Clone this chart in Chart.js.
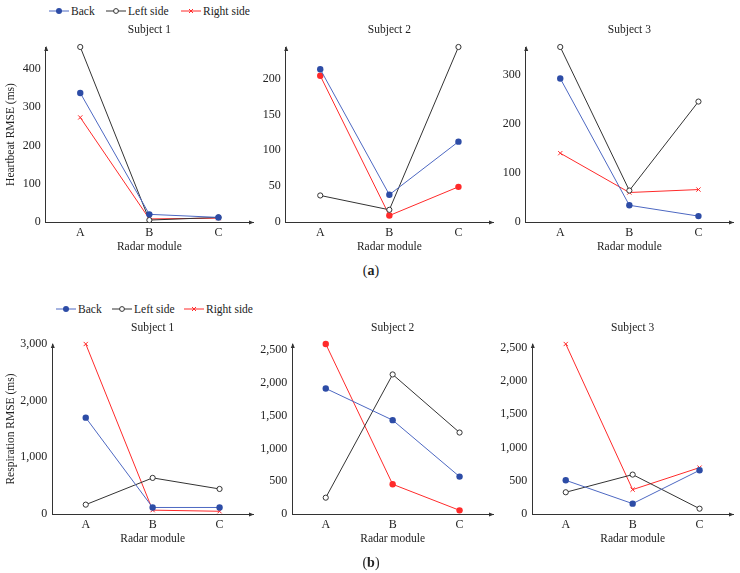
<!DOCTYPE html>
<html lang="en">
<head>
    <meta charset="UTF-8">
    <title>RMSE per radar module</title>
    <style type="text/css">
        body {
            margin: 0;
            width: 740px;
            height: 573px;
            position: relative;
            overflow: hidden;
            background: #fff;
            font-family: "Liberation Serif", serif;
            color: #222;
        }
        canvas { position: absolute; }
        .item {
            position: absolute;
            font-size: 11.5px;
            line-height: 14px;
            white-space: nowrap;
        }
        .item svg { vertical-align: middle; margin-right: 2px; margin-top: -2px; }
        .cap {
            position: absolute;
            width: 60px;
            text-align: center;
            font-size: 14px;
            line-height: 16px;
        }
    </style>
</head>
<body>
    <canvas id="hr1" width="258" height="234" style="left:0px;top:20px"></canvas>
    <canvas id="hr2" width="248" height="234" style="left:250px;top:20px"></canvas>
    <canvas id="hr3" width="248" height="234" style="left:490px;top:20px"></canvas>
    <canvas id="rr1" width="258" height="228" style="left:0px;top:318px"></canvas>
    <canvas id="rr2" width="248" height="228" style="left:250px;top:318px"></canvas>
    <canvas id="rr3" width="248" height="228" style="left:490px;top:318px"></canvas>

    <div id="legendA"></div>
    <div id="legendB"></div>
    <div class="cap" style="left:341px;top:263px">(<b>a</b>)</div>
    <div class="cap" style="left:341px;top:555px">(<b>b</b>)</div>

    <script src="https://cdn.jsdelivr.net/npm/chart.js"></script>

    <script>
    // data, one entry per subject, values for modules A, B, C
    const modules = ['A', 'B', 'C'];
    const seriesNames = ['Back', 'Left side', 'Right side'];

    const hrBack  = [[337, 20, 12], [213, 38, 112], [292, 34, 12]];
    const hrLeft  = [[457, 5, 12],  [37, 17, 244],  [356, 64, 245]];
    const hrRight = [[273, 8, 10],  [204, 9, 49],   [140, 60, 66]];
    const hrSteps = [100, 50, 100];

    const rrBack  = [[1700, 115, 115], [1914, 1431, 570], [507, 156, 658]];
    const rrLeft  = [[165, 637, 442],  [249, 2128, 1242], [327, 593, 80]];
    const rrRight = [[3000, 68, 48],   [2592, 453, 56],   [2558, 367, 698]];
    const rrSteps = [1000, 500, 500];

    const blueLine = '#4d68c2', blueDot = '#2d4ca6';
    const darkLine = '#333333';
    const redLine = '#ff2a2a';
    const font = { family: '"Liberation Serif", serif', size: 11.5 };
    const tickFont = { family: '"Liberation Serif", serif', size: 12 };

    // arrow heads at the ends of both axes, title centred over the plot area
    const axisPlugin = {
        id: 'axisLook',
        afterLayout(chart) {
            const t = chart.titleBlock;
            if (t) {
                t.left = chart.chartArea.left;
                t.right = chart.chartArea.right;
            }
        },
        afterDraw(chart) {
            const { ctx, chartArea: a } = chart;
            ctx.save();
            ctx.fillStyle = '#333';
            ctx.beginPath();
            ctx.moveTo(a.right + 1, a.bottom + 0.5);
            ctx.lineTo(a.right - 4, a.bottom - 1.5);
            ctx.lineTo(a.right - 4, a.bottom + 2.5);
            ctx.fill();
            ctx.beginPath();
            ctx.moveTo(a.left + 0.5, a.top - 1);
            ctx.lineTo(a.left - 1.5, a.top + 4);
            ctx.lineTo(a.left + 2.5, a.top + 4);
            ctx.fill();
            ctx.restore();
        }
    };

    function makeChart(id, s, back, left, right, step, yTitle, yWidth, padTop, padBottom) {
        const ymax = Math.max(...back[s], ...left[s], ...right[s]);
        // subject 2 uses filled red dots for the right side
        const redStyle = s === 1 ? 'circle' : 'crossRot';
        const data = {
            labels: modules,
            datasets: [{
                label: seriesNames[0],
                data: back[s],
                borderColor: blueLine,
                borderWidth: 1,
                pointStyle: 'circle',
                pointRadius: 3.2,
                pointBackgroundColor: blueDot,
                pointBorderColor: blueDot,
                pointBorderWidth: 0
            }, {
                label: seriesNames[1],
                data: left[s],
                borderColor: darkLine,
                borderWidth: 1,
                pointStyle: 'circle',
                pointRadius: 2.6,
                pointBackgroundColor: '#fff',
                pointBorderColor: darkLine,
                pointBorderWidth: 1
            }, {
                label: seriesNames[2],
                data: right[s],
                borderColor: redLine,
                borderWidth: 1,
                pointStyle: redStyle,
                pointRadius: s === 1 ? 3.2 : 3,
                pointBackgroundColor: redLine,
                pointBorderColor: redLine,
                pointBorderWidth: s === 1 ? 0 : 1
            }]
        };

        const config = {
            type: 'line',
            data,
            plugins: [axisPlugin],
            options: {
                responsive: false,
                animation: false,
                clip: false,
                layout: { padding: { left: 0, right: 2, top: 0, bottom: 0 } },
                plugins: {
                    legend: { display: false },
                    tooltip: { enabled: false },
                    title: {
                        display: true,
                        text: 'Subject ' + (s + 1),
                        color: '#222',
                        font: { family: font.family, size: 11.5, weight: 'normal' },
                        padding: { top: padTop, bottom: padBottom }
                    }
                },
                scales: {
                    x: {
                        type: 'category',
                        offset: true,
                        grid: { display: false, drawTicks: false },
                        border: { color: '#333', width: 1 },
                        ticks: { padding: 4, color: '#222', font: tickFont },
                        title: {
                            display: true,
                            text: 'Radar module',
                            color: '#222',
                            font,
                            padding: { top: 0, bottom: 0 }
                        },
                        afterFit(scale) { scale.height = 32; }
                    },
                    y: {
                        min: 0,
                        max: ymax,
                        grid: { display: false, drawTicks: false },
                        border: { color: '#333', width: 1 },
                        ticks: {
                            padding: 5,
                            color: '#222',
                            font: tickFont,
                            callback: v => v.toLocaleString('en-US')
                        },
                        // ticks every `step` from zero, the axis itself runs up to the largest value
                        afterBuildTicks(scale) {
                            const t = [];
                            for (let v = 0; v <= scale.max; v += step) t.push({ value: v });
                            scale.ticks = t;
                        },
                        title: {
                            display: !!yTitle,
                            text: yTitle,
                            color: '#222',
                            font,
                            padding: { top: 4.5, bottom: 0 }
                        },
                        afterFit(scale) { scale.width = yWidth; }
                    }
                }
            }
        };
        return new Chart(document.getElementById(id), config);
    }

    makeChart('hr1', 0, hrBack, hrLeft, hrRight, hrSteps[0], 'Heartbeat RMSE (ms)', 45.7, 3.4, 9.8);
    makeChart('hr2', 1, hrBack, hrLeft, hrRight, hrSteps[1], '', 35.7, 3.4, 9.8);
    makeChart('hr3', 2, hrBack, hrLeft, hrRight, hrSteps[2], '', 35.7, 3.4, 9.8);
    makeChart('rr1', 0, rrBack, rrLeft, rrRight, rrSteps[0], 'Respiration RMSE (ms)', 52.3, 2.8, 9.4);
    makeChart('rr2', 1, rrBack, rrLeft, rrRight, rrSteps[1], '', 42.3, 2.8, 9.4);
    makeChart('rr3', 2, rrBack, rrLeft, rrRight, rrSteps[2], '', 42.3, 2.8, 9.4);

    // legends above each row
    const markers = [
        '<line x1="0" y1="7" x2="20" y2="7" stroke="' + blueLine + '" stroke-width="1"/><circle cx="10" cy="7" r="3" fill="' + blueDot + '"/>',
        '<line x1="0" y1="7" x2="20" y2="7" stroke="' + darkLine + '" stroke-width="1"/><circle cx="10" cy="7" r="2.4" fill="#fff" stroke="' + darkLine + '"/>',
        '<line x1="0" y1="7" x2="20" y2="7" stroke="' + redLine + '" stroke-width="1"/><path d="M8 5 L12 9 M12 5 L8 9" stroke="' + redLine + '"/>'
    ];
    function buildLegend(el, xs, top) {
        seriesNames.forEach((name, i) => {
            const d = document.createElement('div');
            d.className = 'item';
            d.style.left = xs[i] + 'px';
            d.style.top = top + 'px';
            d.innerHTML = '<svg width="20" height="14">' + markers[i] + '</svg>' + name;
            el.appendChild(d);
        });
    }
    buildLegend(document.getElementById('legendA'), [49, 106, 181], 4);
    buildLegend(document.getElementById('legendB'), [56, 112, 184], 302);
    </script>
</body>
</html>
